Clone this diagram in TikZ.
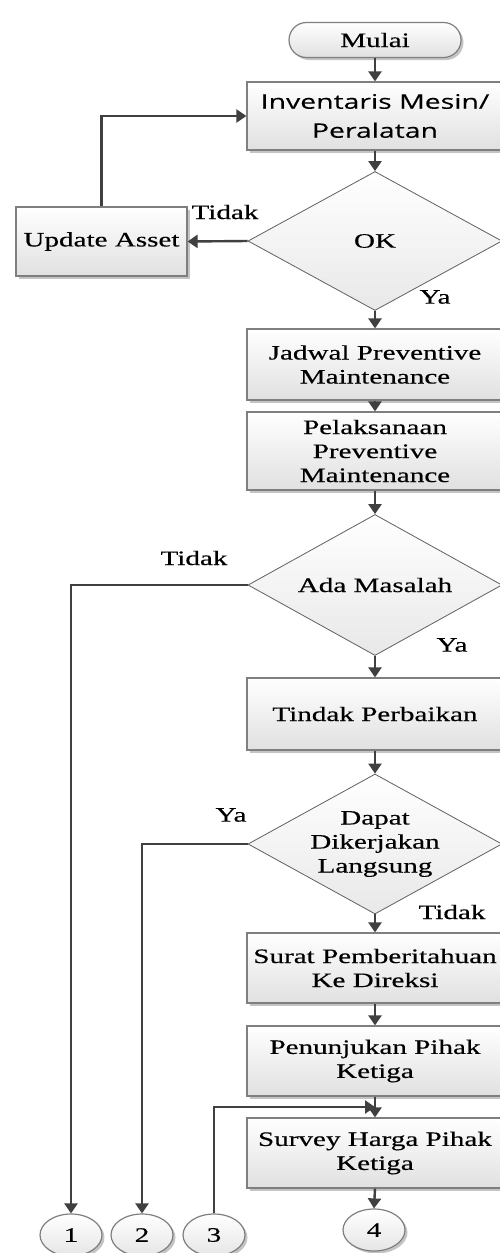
\documentclass[tikz,border=0pt]{standalone}
\usepackage{fontspec}
\setmainfont{Liberation Serif}[FakeStretch=1.42, FakeBold=0.35]
\newfontfamily\invfont{Open Sans}[FakeStretch=1.42, FakeBold=0.2]
\usetikzlibrary{shapes.geometric,shapes.misc,shadows,arrows.meta}
\definecolor{boxborder}{HTML}{7F7F7F}
\definecolor{diaborder}{HTML}{606060}
\definecolor{arrc}{HTML}{404040}
\definecolor{shadowc}{HTML}{C4C4C4}
\tikzset{
  txtfont/.style={font=\fontsize{20.5}{24}\selectfont},
  boxnode/.style={draw=boxborder, line width=1.2pt, top color=white, bottom color=black!12,
    drop shadow={shadow xshift=2.5pt, shadow yshift=-2.5pt, fill=shadowc, opacity=1},
    minimum width=256pt, minimum height=70pt, inner sep=0pt, align=center, txtfont},
  termnode/.style={rounded rectangle, draw=boxborder, line width=1.2pt, top color=white, bottom color=black!12,
    drop shadow={shadow xshift=2.5pt, shadow yshift=-2.5pt, fill=shadowc, opacity=1},
    minimum width=172pt, minimum height=35pt, inner sep=0pt, txtfont},
  dianode/.style={diamond, draw=diaborder, line width=0.8pt, top color=white, bottom color=black!9,
    minimum width=254pt, minimum height=139pt, inner sep=0pt},
  dtext/.style={align=center, inner sep=0pt, txtfont},
  circnode/.style={ellipse, draw=boxborder, line width=1.2pt, top color=white, bottom color=black!10,
    drop shadow={shadow xshift=2.5pt, shadow yshift=-2.5pt, fill=shadowc, opacity=1},
    minimum width=62pt, minimum height=42pt, inner sep=0pt, txtfont},
  lbl/.style={inner sep=0pt, txtfont},
  arr/.style={draw=arrc, line width=2.4pt, -{Triangle[length=10pt,width=13pt]}},
}
\begin{document}
\begin{tikzpicture}[x=1pt,y=-1pt]
\useasboundingbox (0,0) rectangle (500,1253);
\clip (0,0) rectangle (500,1253);
\fill[white] (0,0) rectangle (500,1253);

% nodes
\node[termnode] (mulai) at (375,40) {Mulai};
\node[boxnode, minimum height=68pt, font=\invfont\fontsize{20}{29}\selectfont] (inv) at (375,116) {Inventaris Mesin/\\Peralatan};
\node[dianode] (ok) at (375,241) {};
\node[dtext] (okt) at (ok.center) {OK};
\node[boxnode, minimum width=171pt, minimum height=69pt] (upd) at (101.5,241.5) {Update Asset};
\node[boxnode, minimum height=71pt] (jad) at (375,364.5) {Jadwal Preventive\\Maintenance};
\node[boxnode, minimum height=78pt] (pel) at (375,451) {Pelaksanaan\\Preventive\\Maintenance};
\node[dianode, minimum height=141pt] (ada) at (375,585) {};
\node[dtext] (adat) at (ada.center) {Ada Masalah};
\node[boxnode, minimum height=72pt] (tin) at (375,714) {Tindak Perbaikan};
\node[dianode, minimum height=140pt] (dap) at (375,844) {};
\node[dtext] (dapt) at (dap.center) {Dapat\\Dikerjakan\\Langsung};
\node[boxnode] (sur) at (375,968) {Surat Pemberitahuan\\Ke Direksi};
\node[boxnode] (pen) at (375,1061) {Penunjukan Pihak\\Ketiga};
\node[boxnode] (svy) at (375,1153) {Survey Harga Pihak\\Ketiga};
\node[circnode] (c4) at (374,1230) {4};
\node[circnode] (c1) at (71,1235) {1};
\node[circnode] (c2) at (142,1235) {2};
\node[circnode] (c3) at (214,1235) {3};
\coordinate (j3) at (375,1107);

% labels
\node[lbl] (l1) at (225,212) {Tidak};
\node[lbl] (l2) at (435,297) {Ya};
\node[lbl] (l3) at (194,558) {Tidak};
\node[lbl] (l4) at (452,645) {Ya};
\node[lbl] (l5) at (231,815) {Ya};
\node[lbl] (l6) at (452,912) {Tidak};

% connectors
\draw[arr] (mulai.south) -- (inv.north);
\draw[arr] (inv.south) -- (ok.north);
\draw[arr] (ok.west) -- (upd.east);
\draw[arr] (upd.north) |- (inv.west);
\draw[arr] (ok.south) -- (jad.north);
\draw[arr] (jad.south) -- (pel.north);
\draw[arr] (pel.south) -- (ada.north);
\draw[arr] (ada.south) -- (tin.north);
\draw[arr] (ada.west) -| (c1.north);
\draw[arr] (tin.south) -- (dap.north);
\draw[arr] (dap.west) -| (c2.north);
\draw[arr] (dap.south) -- (sur.north);
\draw[arr] (sur.south) -- (pen.north);
\draw[arr] (pen.south) -- (svy.north);
\draw[arr] (c3.north) |- (j3);
\draw[arr] (svy.south) -- (c4.north);
\end{tikzpicture}
\end{document}
